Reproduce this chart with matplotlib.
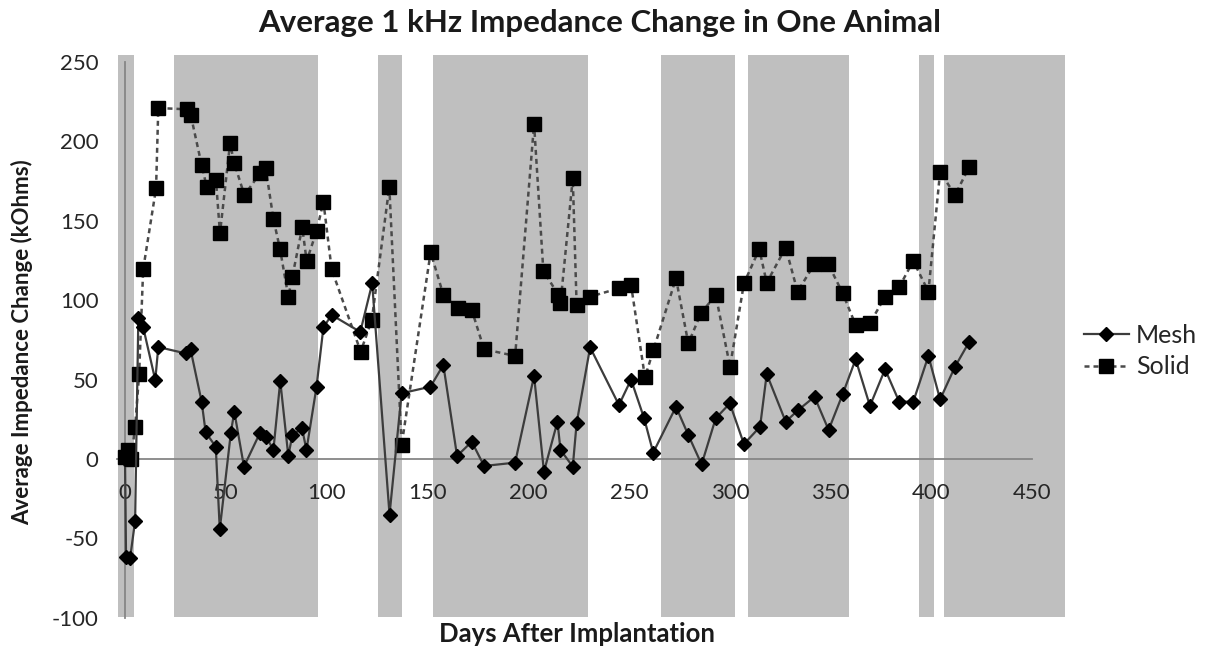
import matplotlib
matplotlib.use("Agg")
import matplotlib.pyplot as plt
from matplotlib.lines import Line2D

plt.rcParams['font.family'] = ['Lato', 'DejaVu Sans']
plt.rcParams['axes.unicode_minus'] = False

# shaded periods (days)
band_start = [-3.5, 24.3, 125.5, 152.8, 265.9, 309.0, 393.8, 406.3]
band_end = [4.5, 95.7, 137.4, 229.7, 302.6, 359.0, 401.3, 466.3]

mesh_days = [0, 0.5, 2.5, 5, 6.6, 9, 15, 16.5, 30, 32.5, 38, 40, 45, 47, 52.5, 54.2,
             59, 67, 70, 73.6, 77, 81, 83, 87.8, 90, 95, 98.4, 102.5, 116.7, 122.6,
             131.2, 137.2, 151.5, 157.9, 164.7, 172, 178.1, 193.5, 202.9, 207.8,
             214.5, 216, 222.1, 224, 230.7, 245, 251, 257.5, 262, 273.3, 279.4,
             286, 293, 300, 307, 315, 318.3, 327.7, 334, 342, 349, 356, 362.4,
             369.5, 377, 384, 391, 398.5, 404.3, 411.7, 418.8]
mesh_vals = [0, -61.5, -62.6, -39, 88.6, 83, 49.7, 70.5, 66.5, 69, 36.1, 16.8, 7.7, -44.3,
             16.6, 29.8, -4.8, 16.6, 14, 5.7, 49.1, 1.9, 15.1, 19.3, 5.7, 45.5, 82.9,
             90.7, 80, 110.6, -35, 41.4, 45.5, 59.2, 1.9, 10.9, -4.4, -2.3, 52.3, -8,
             23.5, 5.7, -4.8, 22.4, 70.3, 34, 50, 25.6, 4, 32.9, 15.1, -3.4, 25.6, 35,
             9.4, 20.3, 53.5, 23.5, 30.9, 39.2, 18.3, 40.9, 62.8, 33.4, 56.5, 36.1,
             36.1, 64.9, 37.5, 58.1, 73.9]

solid_days = [0, 1.6, 3, 5, 7, 9, 15.4, 16.5, 30.6, 32.6, 38, 40.5, 45.1, 47.1, 52.1,
              54.2, 59.2, 67, 69.8, 73.6, 76.9, 81, 83, 87.9, 90.1, 95.1, 98.4, 102.5,
              116.9, 122.4, 131.1, 137.2, 151.6, 157.9, 165, 172, 178.1, 193.5, 202.9,
              207.5, 215, 216, 222.1, 224, 230.7, 245, 251, 257.9, 262.1, 273.3, 279.4,
              285.7, 293, 300.1, 307, 314.6, 318.3, 327.7, 333.6, 341.9, 348.9, 356,
              362.4, 369.5, 377, 384.1, 391, 398.5, 404.3, 411.7, 418.8]
solid_vals = [1.5, 5.5, 0, 20, 53.5, 119.4, 170.5, 221, 220.2, 216.6, 185.1, 171.5, 175.7,
              142.1, 198.8, 186.2, 166.2, 179.9, 183, 151.1, 132.1, 102.2, 114.8, 145.9,
              124.7, 143.8, 162, 119.4, 67.6, 87.5, 171.5, 8.8, 130.2, 103.3, 94.9, 93.8,
              69.1, 64.9, 211, 118.4, 103.3, 98, 176.8, 97, 102.2, 107.5, 109.6, 51.4,
              68.6, 113.8, 72.8, 91.8, 103.3, 58.1, 110.6, 132.1, 111, 133.1, 105.4,
              122.6, 122.6, 104.3, 84.4, 85.5, 102.2, 108.5, 124.7, 105.4, 180.9, 166.2,
              184]

x_ticks = [0, 50, 100, 150, 200, 250, 300, 350, 400, 450]
y_ticks = [-100, -50, 0, 50, 100, 150, 200, 250]

fig = plt.figure(figsize=(12.07, 6.49), dpi=100)
ax = fig.add_axes([0.0969, 0.0481, 0.7867, 0.8564])
ax.set_xlim(-4, 467)
ax.set_ylim(-100, 250)

for s, e in zip(band_start, band_end):
    ax.fill_betweenx([-99.5, 254.5], s, e, color='#bfbfbf', lw=0, zorder=1, clip_on=False)

ax.plot(mesh_days, mesh_vals, color='#3c3c3c', lw=1.6, marker='D', markersize=7.5,
        markerfacecolor='black', markeredgecolor='black', zorder=4, clip_on=False)
ax.plot(solid_days, solid_vals, color='#4a4a4a', lw=1.8, linestyle=(0, (2, 1.6)),
        marker='s', markersize=9.5, markerfacecolor='black', markeredgecolor='black',
        zorder=3, clip_on=False)

for side in ['top', 'right']:
    ax.spines[side].set_visible(False)
ax.spines['bottom'].set_position(('data', 0))
ax.spines['bottom'].set_bounds(-4, 450)
ax.spines['left'].set_position(('data', 0))
ax.spines['left'].set_bounds(-100, 250)
for side in ['bottom', 'left']:
    ax.spines[side].set_color('#868686')
    ax.spines[side].set_linewidth(1.3)
    ax.spines[side].set_zorder(2)

ax.set_xticks(x_ticks)
ax.set_yticks(y_ticks)
ax.tick_params(axis='x', length=0, pad=17, labelsize=16, labelcolor='#262626')
ax.tick_params(axis='y', length=0, pad=19, labelsize=16, labelcolor='#262626')
ax.set_facecolor('none')

fig.text(0.497, 1 - 23 / 649, 'Average 1 kHz Impedance Change in One Animal',
         ha='center', va='center', fontsize=22.5, fontweight='bold', color='#1a1a1a')
fig.text(22 / 1207, 1 - 342 / 649, 'Average Impedance Change (kOhms)', rotation=90,
         ha='center', va='center', fontsize=16, fontweight='bold', color='#1a1a1a')
fig.text(577 / 1207, 1 - 634 / 649, 'Days After Implantation',
         ha='center', va='center', fontsize=18.5, fontweight='bold', color='#1a1a1a')

handles = [Line2D([], [], color='#3c3c3c', lw=1.6, marker='D', markersize=7.5,
                  markerfacecolor='black', markeredgecolor='black'),
           Line2D([], [], color='#4a4a4a', lw=1.8, linestyle=(0, (2, 1.6)), marker='s',
                  markersize=9.5, markerfacecolor='black', markeredgecolor='black')]
fig.legend(handles, ['Mesh', 'Solid'], loc='center left',
           bbox_to_anchor=(1071 / 1207, 1 - 351 / 649), frameon=False, fontsize=18,
           handlelength=1.8, handletextpad=0.3, labelspacing=0.35, borderpad=0,
           labelcolor='#262626')

fig.savefig('out.png', dpi=100)
